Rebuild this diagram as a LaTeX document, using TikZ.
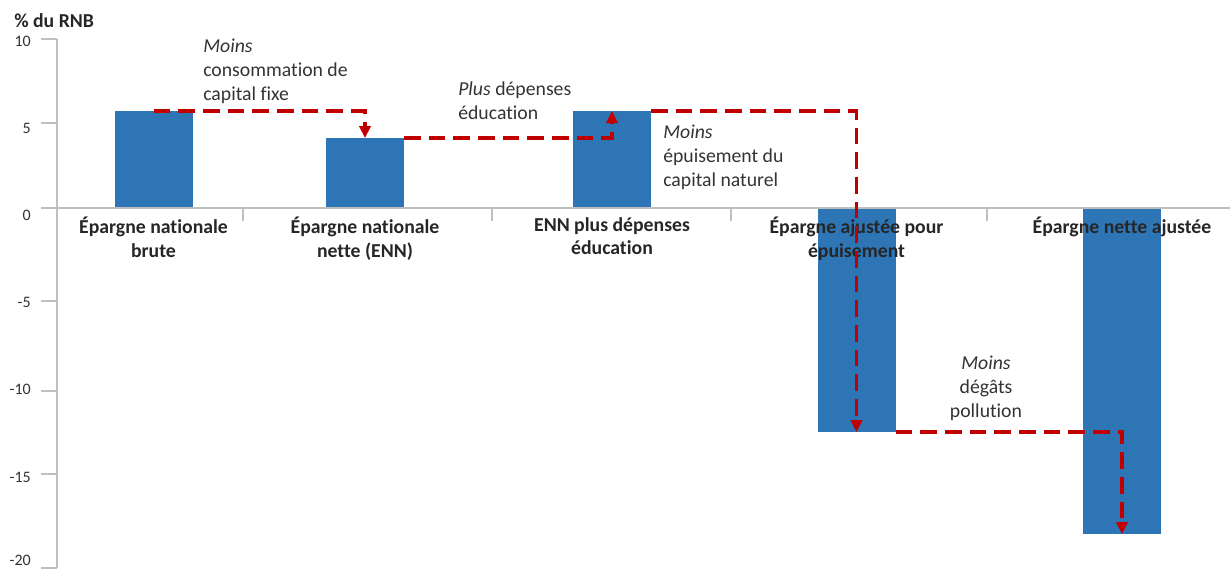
\documentclass[tikz,border=0pt]{standalone}
\usepackage{fontspec}
\setmainfont{Carlito}[Ligatures=NoCommon]
\usetikzlibrary{arrows.meta}
\definecolor{barblue}{HTML}{2E75B6}
\definecolor{flowred}{HTML}{C00000}
\definecolor{axisgray}{HTML}{BFBFBF}
\begin{document}
\begin{tikzpicture}[x=0.75pt,y=-0.75pt,
  bar/.style={fill=barblue,inner sep=0pt,outer sep=0pt,minimum width=58.5pt},
  flow/.style={flowred,line width=2.3pt,dash pattern=on 12.5pt off 6pt,-{Triangle[length=9pt,width=8.5pt]}},
  cat/.style={font=\fontsize{14.8}{17.6}\selectfont\bfseries,text=black!85,align=center,anchor=north,inner sep=0pt},
  note/.style={font=\fontsize{14.8}{18}\selectfont,text=black!80,inner sep=0pt},
  ticklab/.style={font=\fontsize{12}{14}\selectfont,text=black!80,anchor=east,inner sep=0pt},
  axis/.style={axisgray,line width=1.2pt}]
\useasboundingbox (0,0) rectangle (1230,569);
% bars
\node[bar,minimum height=72.75pt,anchor=south] (b1) at (153.5,208) {};
\node[bar,minimum height=52.5pt,anchor=south] (b2) at (365,208) {};
\node[bar,minimum height=72.75pt,anchor=south] (b3) at (612,208) {};
\node[bar,minimum height=168pt,anchor=north] (b4) at (856.5,208) {};
\node[bar,minimum height=244.5pt,anchor=north] (b5) at (1122,208) {};
% axes
\draw[axis] (57,39) -- (57,568);
\draw[axis] (57,208) -- (1230,208);
\draw[axis] (41,39) -- (57,39);
\draw[axis] (41,123) -- (57,123);
\draw[axis] (41,208) -- (57,208);
\draw[axis] (41,301) -- (57,301);
\draw[axis] (41,391) -- (57,391);
\draw[axis] (41,474) -- (57,474);
\draw[axis] (41,568) -- (57,568);
\draw[axis] (243,208) -- (243,221);
\draw[axis] (492,208) -- (492,221);
\draw[axis] (731,208) -- (731,221);
\draw[axis] (987,208) -- (987,221);
\node[ticklab] (t10) at (31,41) {10};
\node[ticklab] (t5) at (31,128) {5};
\node[ticklab] (t0) at (31,215) {0};
\node[ticklab] (tm5) at (31,302) {-5};
\node[ticklab] (tm10) at (31,389) {-10};
\node[ticklab] (tm15) at (31,477) {-15};
\node[ticklab] (tm20) at (31,560) {-20};
\node[note,font=\fontsize{14.8}{18}\selectfont\bfseries,text=black!85,anchor=base west] (unit) at (14,27) {\% du RNB};
% categories
\node[cat] (c1) at (b1.south |- 0,217) {Épargne nationale\\brute};
\node[cat] (c2) at (b2.south |- 0,217) {Épargne nationale\\nette (ENN)};
\node[cat] (c3) at (b3.south |- 0,217) {ENN plus dépenses\\éducation};
\node[cat] (c4) at (b4.north |- 0,217) {Épargne ajustée pour\\épuisement};
\node[cat] (c5) at (b5.north |- 0,217) {Épargne nette ajustée};
% annotations
\node[note,align=left,anchor=north west] (n1) at (203,39) {\textit{Moins}\\consommation de\\capital fixe};
\node[note,align=left,anchor=north west] (n2) at (458,82) {\textit{Plus} dépenses\\éducation};
\node[note,align=left,anchor=north west] (n3) at (663,125) {\textit{Moins}\\épuisement du\\capital naturel};
\node[note,align=center,anchor=north] (n4) at (986,356) {\textit{Moins}\\dégâts\\pollution};
% flows
\draw[flow] (b1.north) -| (b2.north);
\draw[flow] (b2.north east) -| (b3.north);
\draw[flow] (b3.north east) -| (b4.south);
\draw[flow] (b4.south east) -| (b5.south);
\end{tikzpicture}
\end{document}
